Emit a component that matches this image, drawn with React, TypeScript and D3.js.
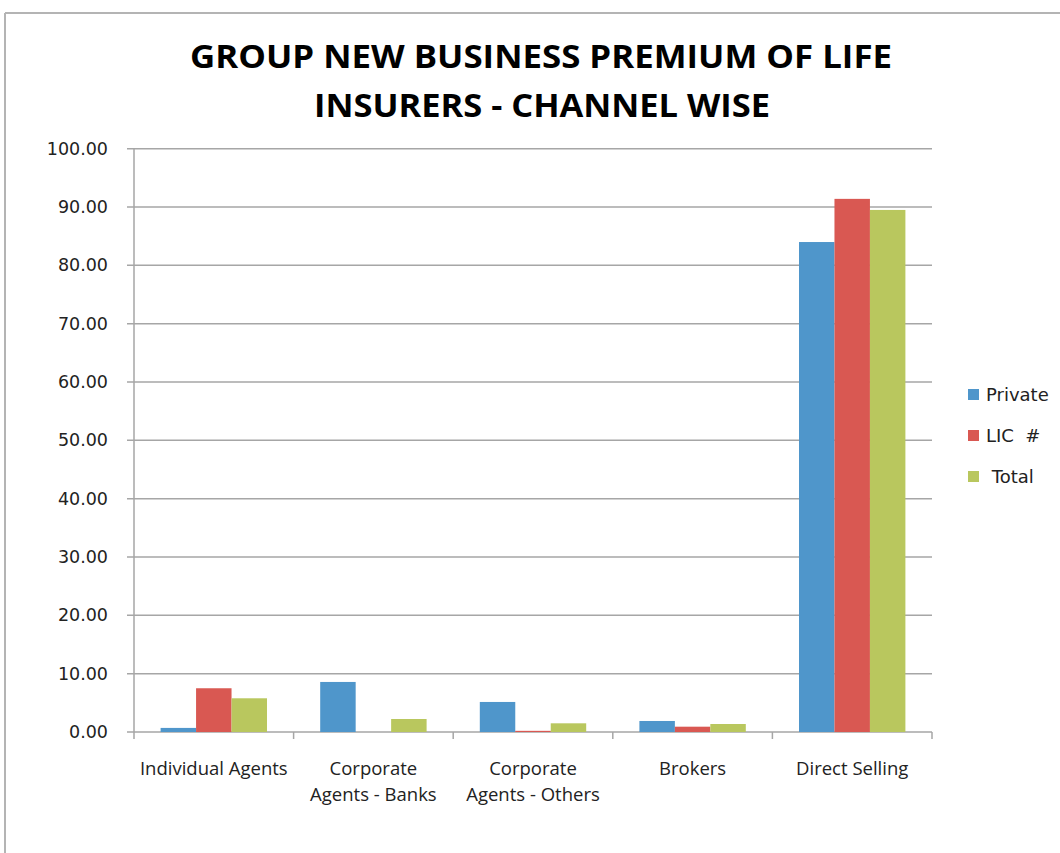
import * as d3 from "d3";

const CATEGORIES = [
  ["Individual Agents"],
  ["Corporate", "Agents - Banks"],
  ["Corporate", "Agents - Others"],
  ["Brokers"],
  ["Direct Selling"],
];
const SERIES = ["Private", "LIC  #", " Total"];
const PRIVATE = [0.7, 8.58, 5.15, 1.89, 84.0];
const LIC = [7.5, 0, 0.2, 0.91, 91.4];
const TOTAL = [5.78, 2.23, 1.49, 1.37, 89.5];
const Y_TICKS = [0, 10, 20, 30, 40, 50, 60, 70, 80, 90, 100];
const COLORS = ["#4f96cb", "#d95852", "#b9c75e"];

const W = 1060, H = 853;
const plot = { l: 134, r: 932, t: 148.7, b: 732 };

export default function App() {
  const values = [PRIVATE, LIC, TOTAL];
  const catKeys = CATEGORIES.map((c) => c.join(" "));
  const x = d3.scaleBand<string>().domain(catKeys).range([plot.l, plot.r]).padding(0);
  const xs = d3.scaleBand<string>().domain(SERIES).range([0, x.bandwidth()]).paddingInner(0).paddingOuter(0.75);
  const y = d3.scaleLinear().domain([0, 100]).range([plot.b, plot.t]);
  const grid = "#a6a6a6";
  const tickFont = "DejaVu Sans";

  return (
    <svg width={W} height={H} style={{ position: "absolute", left: 0, top: 0, background: "#fff" }}>
      {/* outer chart frame */}
      <line x1={5} x2={W} y1={13} y2={13} stroke="#b4b4b4" strokeWidth={2} />
      <line x1={5} x2={5} y1={13} y2={H} stroke="#b4b4b4" strokeWidth={2} />

      <text x={541} y={68} textAnchor="middle" fontFamily="Open Sans" fontWeight={700} fontSize={32}
        textLength={702} lengthAdjust="spacingAndGlyphs" fill="#000">GROUP NEW BUSINESS PREMIUM OF LIFE</text>
      <text x={542} y={117} textAnchor="middle" fontFamily="Open Sans" fontWeight={700} fontSize={32}
        textLength={456} lengthAdjust="spacingAndGlyphs" fill="#000">INSURERS - CHANNEL WISE</text>

      {Y_TICKS.map((v) => (
        <g key={v}>
          <line x1={plot.l - 7} x2={plot.r} y1={y(v)} y2={y(v)} stroke={grid} strokeWidth={1.5} />
          <text x={108} y={y(v)} dy="0.35em" textAnchor="end" fontFamily={tickFont} fontSize={17.5} fill="#222">
            {v.toFixed(2)}
          </text>
        </g>
      ))}
      <line x1={plot.l} x2={plot.l} y1={plot.t} y2={plot.b} stroke={grid} strokeWidth={1.5} />
      {[...catKeys.map((k) => x(k) as number), plot.r].map((px, i) => (
        <line key={i} x1={px} x2={px} y1={plot.b} y2={plot.b + 7} stroke={grid} strokeWidth={1.5} />
      ))}

      {catKeys.map((k, ci) => (
        <g key={k} transform={`translate(${x(k)},0)`}>
          {SERIES.map((s, si) => (
            <rect key={s} x={xs(s)} y={y(values[si][ci])} width={xs.bandwidth()}
              height={plot.b - y(values[si][ci])} fill={COLORS[si]} />
          ))}
          {CATEGORIES[ci].map((line, li) => (
            <text key={li} x={x.bandwidth() / 2} y={775 + li * 26} textAnchor="middle"
              fontFamily="Open Sans" fontSize={18.5} fill="#222">{line}</text>
          ))}
        </g>
      ))}

      {SERIES.map((s, i) => (
        <g key={s} transform={`translate(968,${395 + i * 41})`}>
          <rect x={0} y={-6} width={11} height={11} fill={COLORS[i]} />
          <text x={18} y={0} dy="0.35em" fontFamily={tickFont} fontSize={18} fill="#222" style={{ whiteSpace: "pre" }}>{s}</text>
        </g>
      ))}
    </svg>
  );
}
